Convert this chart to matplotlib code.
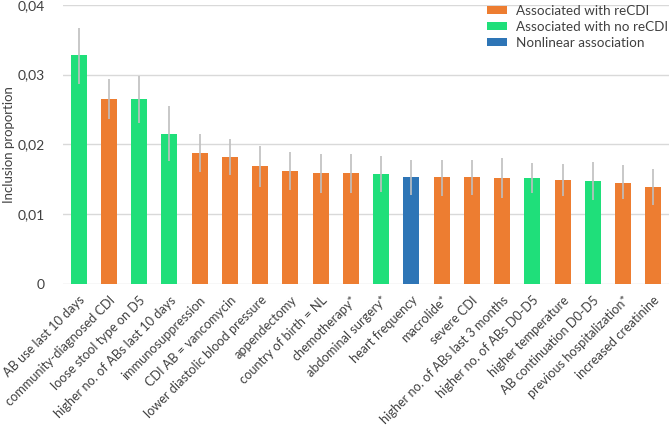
import numpy as np
import matplotlib.pyplot as plt
from matplotlib.patches import Patch
from matplotlib.ticker import FuncFormatter

plt.rcParams['font.family'] = ['Lato', 'DejaVu Sans']

# predictors, sorted by inclusion proportion
labels = [
    "AB use last 10 days", "community-diagnosed CDI", "loose stool type on D5",
    "higher no. of ABs last 10 days", "immunosuppression", "CDI AB = vancomycin",
    "lower diastolic blood pressure", "appendectomy", "country of birth = NL",
    "chemotherapy*", "abdominal surgery*", "heart frequency", "macrolide*",
    "severe CDI", "higher no. of ABs last 3 months", "higher no. of ABs D0-D5",
    "higher temperature", "AB continuation D0-D5", "previous hospitalization*",
    "increased creatinine",
]
proportion = [0.0328, 0.0265, 0.0265, 0.0215, 0.0188, 0.0182, 0.0169, 0.0162,
              0.0159, 0.0159, 0.0158, 0.0153, 0.0153, 0.0153, 0.0152, 0.0152,
              0.0149, 0.0148, 0.0145, 0.0139]
err_low = [0.0287, 0.0237, 0.0231, 0.0176, 0.0161, 0.0156, 0.0139, 0.0135,
           0.0131, 0.0131, 0.0132, 0.0128, 0.0127, 0.0128, 0.0124, 0.0130,
           0.0126, 0.0121, 0.0122, 0.0114]
err_high = [0.0367, 0.0294, 0.0298, 0.0255, 0.0215, 0.0208, 0.0198, 0.0189,
            0.0186, 0.0186, 0.0183, 0.0178, 0.0178, 0.0178, 0.0181, 0.0174,
            0.0172, 0.0175, 0.0170, 0.0165]
# r = associated with reCDI, n = associated with no reCDI, x = nonlinear
group = ["n", "r", "n", "n", "r", "r", "r", "r", "r", "r",
         "n", "x", "r", "r", "r", "n", "r", "n", "r", "r"]

colors = {"r": "#ED7D31", "n": "#1FDF7A", "x": "#2E75B6"}
legend_names = {"r": "Associated with reCDI", "n": "Associated with no reCDI",
                "x": "Nonlinear association"}

fig = plt.figure(figsize=(6.69, 4.26), dpi=100)
ax = fig.add_axes([0.094, 0.3326, 0.906, 0.6564])

x = np.arange(len(labels))
vals = np.array(proportion)
yerr = np.array([vals - np.array(err_low), np.array(err_high) - vals])
ax.bar(x, vals, width=0.53, color=[colors[g] for g in group], zorder=2)
ax.errorbar(x, vals, yerr=yerr, fmt='none', ecolor='#BFBFBF', elinewidth=1.2,
            capsize=0, zorder=3)

ax.set_xlim(-0.52, 19.52)
ax.set_ylim(0, 0.04)
ax.set_yticks([0, 0.01, 0.02, 0.03, 0.04])
ax.yaxis.set_major_formatter(FuncFormatter(
    lambda v, p: "0" if v == 0 else f"{v:.2f}".replace(".", ",")))
ax.grid(axis='y', color='#D9D9D9', linewidth=1.0, zorder=0)
for s in ax.spines.values():
    s.set_visible(False)
ax.tick_params(axis='y', length=0, pad=13, labelsize=10, labelcolor='#404040')
ax.tick_params(axis='x', length=0, pad=7)
ax.set_xticks(x)
ax.set_xticklabels(labels, rotation=45, ha='right', rotation_mode='anchor',
                   fontsize=9.2, color='#404040')
ax.set_ylabel("Inclusion proportion", fontsize=9.5, color='#404040')
ax.yaxis.set_label_coords(-0.079, 0.5)

handles = [Patch(facecolor=colors[k], label=legend_names[k]) for k in ["r", "n", "x"]]
ax.legend(handles=handles, loc='upper left', bbox_to_anchor=(0.70, 1.0),
          frameon=False, fontsize=9.7, handlelength=1.5, handleheight=0.62,
          handletextpad=0.65, labelspacing=0.3, borderpad=0, borderaxespad=0,
          labelcolor='#404040')

plt.savefig("out.png", dpi=100)
